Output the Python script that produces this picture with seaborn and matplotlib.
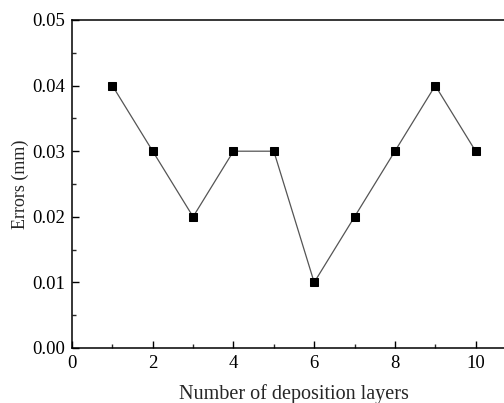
import matplotlib
matplotlib.use("Agg")
import matplotlib.pyplot as plt
import seaborn as sns
import pandas as pd
from matplotlib.ticker import MultipleLocator

layers = [1, 2, 3, 4, 5, 6, 7, 8, 9, 10]
errors = [0.04, 0.03, 0.02, 0.03, 0.03, 0.01, 0.02, 0.03, 0.04, 0.03]

sns.set_style("ticks")
plt.rcParams['font.family'] = ['Liberation Serif', 'DejaVu Serif']
plt.rcParams['mathtext.fontset'] = 'stix'

df = pd.DataFrame({"layers": layers, "errors": errors})

fig = plt.figure(figsize=(5.04, 4.03), dpi=100)
ax = fig.add_axes([72/504, 55/403, 444/504, 328/403])

sns.lineplot(data=df, x="layers", y="errors", ax=ax, color="#555555",
             linewidth=0.9, marker="s", markersize=6, markerfacecolor="black",
             markeredgecolor="black")

ax.set_xlim(0, 11)
ax.set_ylim(0, 0.05)
ax.xaxis.set_major_locator(MultipleLocator(2))
ax.xaxis.set_minor_locator(MultipleLocator(1))
ax.yaxis.set_major_locator(MultipleLocator(0.01))
ax.yaxis.set_minor_locator(MultipleLocator(0.005))
ax.yaxis.set_major_formatter(matplotlib.ticker.FormatStrFormatter('%.2f'))
ax.tick_params(which='major', direction='in', length=5, width=1, labelsize=13.5,
               top=False, right=False, colors='black', pad=5)
ax.tick_params(which='minor', direction='in', length=3, width=1,
               top=False, right=False)
for s in ax.spines.values():
    s.set_linewidth(1.1)
    s.set_color('black')
ax.set_xlabel("Number of deposition layers", fontsize=14.5, labelpad=9)
ax.set_ylabel("Errors (mm)", fontsize=13, labelpad=2)

fig.savefig("out.png", dpi=100)
